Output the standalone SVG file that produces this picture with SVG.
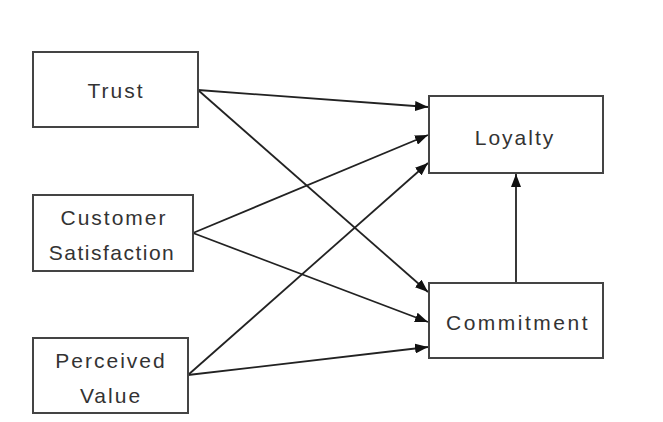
<svg xmlns="http://www.w3.org/2000/svg" width="663" height="422" viewBox="0 0 663 422">
<style>
.box{fill:#fff;stroke:#444;stroke-width:2}
.lbl{font-family:"Liberation Sans",Arial,sans-serif;font-size:21px;fill:#333;text-anchor:middle;letter-spacing:2px}
.edge{stroke:#222;stroke-width:1.8;fill:none;marker-end:url(#arr)}
</style>
<defs>
<marker id="arr" viewBox="0 0 13 10" refX="13" refY="5" markerWidth="13" markerHeight="10" markerUnits="userSpaceOnUse" orient="auto">
<path d="M0,0 L13,5 L0,10 Z" fill="#111"/>
</marker>
</defs>
<rect width="663" height="422" fill="#fff"/>
<g id="connectors">
<line class="edge" x1="198" y1="90" x2="428" y2="107"/>
<line class="edge" x1="198" y1="90" x2="428" y2="292"/>
<line class="edge" x1="193" y1="233" x2="428" y2="135"/>
<line class="edge" x1="193" y1="233" x2="428" y2="322"/>
<line class="edge" x1="188" y1="375" x2="428" y2="163"/>
<line class="edge" x1="188" y1="375" x2="428" y2="347"/>
<line class="edge" x1="516" y1="283" x2="516" y2="174"/>
</g>
<g id="trust">
<rect class="box" x="33" y="52" width="165" height="75"/>
<text class="lbl" x="116" y="98">Trust</text>
</g>
<g id="satisfaction">
<rect class="box" x="33" y="195" width="160" height="76"/>
<text class="lbl" x="114" y="225">Customer</text>
<text class="lbl" x="112" y="260" style="letter-spacing:1.5px">Satisfaction</text>
</g>
<g id="value">
<rect class="box" x="33" y="338" width="155" height="75"/>
<text class="lbl" x="111" y="368">Perceived</text>
<text class="lbl" x="111" y="403">Value</text>
</g>
<g id="loyalty">
<rect class="box" x="429" y="96" width="174" height="77"/>
<text class="lbl" x="515" y="145">Loyalty</text>
</g>
<g id="commitment">
<rect class="box" x="429" y="283" width="174" height="75"/>
<text class="lbl" x="518" y="330" style="letter-spacing:2.5px">Commitment</text>
</g>
</svg>
